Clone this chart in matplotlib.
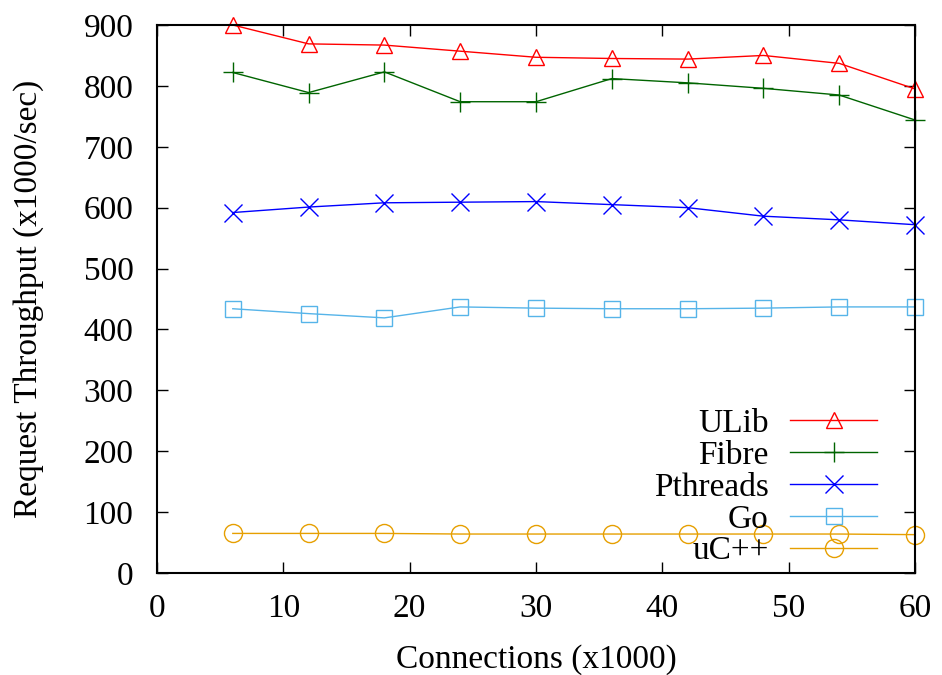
import matplotlib
matplotlib.use("Agg")
import matplotlib.pyplot as plt

plt.rcParams['font.family'] = ['Liberation Serif', 'DejaVu Serif']

connections = [6, 12, 18, 24, 30, 36, 42, 48, 54, 60]
ulib = [900, 869, 867, 857, 847, 845, 844, 850, 837, 795]
fibre = [822, 789, 823, 774, 774, 812, 805, 796, 785, 744]
pthreads = [592, 601, 608, 609, 610, 605, 600, 586, 580, 572]
go = [434, 426, 419, 437, 435, 434, 434, 435, 437, 437]
ucpp = [65, 65, 65, 64, 64, 64, 64, 64, 64, 63]

series = [
    ("ULib", ulib, "#ff0000", "^"),
    ("Fibre", fibre, "#006400", "+"),
    ("Pthreads", pthreads, "#0000ff", "x"),
    ("Go", go, "#56b4e9", "s"),
    ("uC++", ucpp, "#e69f00", "o"),
]

fig = plt.figure(figsize=(9.42, 6.75), dpi=100)
ax = fig.add_axes([157/942, 1-573/675, (915-157)/942, (573-25)/675])

for name, vals, color, mk in series:
    ms = {"^": 12, "s": 12, "o": 13, "+": 15, "x": 13}[mk]
    ax.plot(connections, vals, color=color, marker=mk, markersize=ms,
            markerfacecolor='none', markeredgecolor=color, markeredgewidth=1.0,
            linewidth=1.0, label=name, clip_on=False)

ax.set_xlim(0, 60)
ax.set_ylim(0, 900)
ax.set_xticks(range(0, 61, 10))
ax.set_yticks(range(0, 901, 100))
ax.tick_params(direction='in', length=8, width=1, top=True, right=True,
               labelsize=24)
ax.tick_params(axis='x', pad=15)
ax.tick_params(axis='y', pad=17)
for s in ax.spines.values():
    s.set_linewidth(1.5)

ax.set_xlabel("Connections (x1000)", fontsize=24, labelpad=14)
ax.set_ylabel("Request Throughput (x1000/sec)", fontsize=24, labelpad=28)

leg = ax.legend(loc='lower right', bbox_to_anchor=((877-157)/758, 0.012),
                frameon=False, markerfirst=False, fontsize=24,
                handlelength=2.6, labelspacing=0.04, handletextpad=0.65,
                borderaxespad=0.0, borderpad=0.0)

fig.savefig("out.png", dpi=100)
